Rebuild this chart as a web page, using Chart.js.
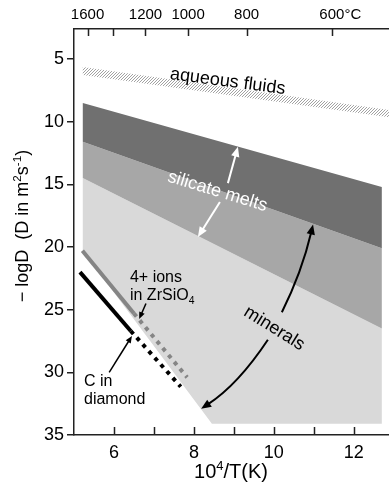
<!DOCTYPE html>
<html>
<head>
<meta charset="utf-8">
<script src="https://cdn.jsdelivr.net/npm/chart.js@4.4.1/dist/chart.umd.min.js"></script>
<style>
  html, body { margin: 0; padding: 0; background: #fff; }
  #wrap { width: 389px; height: 487px; }
</style>
</head>
<body>
<div id="wrap"><canvas id="difChart" width="389" height="487"></canvas></div>
<script>
// bordes de las bandas: [10^4/T, -logD]
const aguaArriba = [[5.22, 5.64], [12.88, 9.07]];
const aguaAbajo  = [[5.22, 6.28], [12.88, 9.65]];
const fundidoSup = [[5.22, 8.5], [12.7, 15.2]];
const fundidoMed = [[5.22, 11.6], [12.7, 20.1]];
const fundidoInf = [[5.22, 14.5], [12.7, 26.5]];
const mineralInf = [[5.22, 20.3], [8.45, 34.1], [12.7, 34.1]];

// lineas de difusion
const zirconSolida   = [[5.21, 20.3], [6.5, 25.3]];
const zirconPuntos   = [[6.5, 25.3], [7.83, 30.4]];
const diamanteSolida = [[5.15, 22.0], [6.42, 26.7]];
const diamantePuntos = [[6.42, 26.7], [7.67, 31.15]];

const ticksX = [6, 7, 8, 9, 10, 11, 12];
const ticksY = [5, 10, 15, 20, 25, 30, 35];
const gradosC = [1600, 1400, 1200, 1000, 800, 600];
const etiquetasC = ['1600', '', '1200', '1000', '800', '    600°C'];

const FUENTE = "'Liberation Sans', Arial, sans-serif";

const pts = a => a.map(p => ({ x: p[0], y: p[1] }));
function poligono(sup, inf) {
    const arriba = pts(sup), abajo = pts(inf).reverse();
    return [...arriba, ...abajo, arriba[0]];
}

// trama rayada para los fluidos
function trama() {
    const c = document.createElement('canvas');
    c.width = 3; c.height = 3;
    const g = c.getContext('2d');
    g.strokeStyle = '#7a7a7a';
    g.lineWidth = 0.7;
    g.beginPath();
    g.moveTo(0, 3); g.lineTo(3, 0);
    g.moveTo(-1, 1); g.lineTo(1, -1);
    g.moveTo(2, 4); g.lineTo(4, 2);
    g.stroke();
    return document.getElementById('difChart').getContext('2d').createPattern(c, 'repeat');
}

function zona(datos, color, orden) {
    return { data: datos, showLine: true, fill: 'shape', backgroundColor: color,
             borderWidth: 0, pointRadius: 0, order: orden };
}
function linea(datos, color, punteada, orden) {
    return { data: pts(datos), showLine: true, fill: false, borderColor: color, borderWidth: 4,
             borderDash: punteada ? [4, 5] : [], borderCapStyle: 'butt',
             pointRadius: 0, order: orden };
}

// texto con partes (superindice / subindice)
function texto(ctx, partes, x, y, ang, size, color, alinear) {
    ctx.save();
    ctx.translate(x, y);
    ctx.rotate(ang * Math.PI / 180);
    ctx.fillStyle = color;
    ctx.textBaseline = 'alphabetic';
    let total = 0;
    const medidas = partes.map(p => {
        const s = p[1] ? size * 0.65 : size;
        ctx.font = s + 'px ' + FUENTE;
        const w = ctx.measureText(p[0]).width;
        total += w;
        return { t: p[0], s, w, dy: p[1] || 0 };
    });
    let cx = alinear === 'left' ? 0 : -total / 2;
    const base = size * 0.36;
    medidas.forEach(m => {
        ctx.font = m.s + 'px ' + FUENTE;
        ctx.fillText(m.t, cx, base + m.dy * size);
        cx += m.w;
    });
    ctx.restore();
}

function punta(ctx, x0, y0, x1, y1, largo, color) {
    const a = Math.atan2(y1 - y0, x1 - x0);
    const ancho = largo * 0.42;
    ctx.fillStyle = color;
    ctx.beginPath();
    ctx.moveTo(x1, y1);
    ctx.lineTo(x1 - largo * Math.cos(a) + ancho * Math.sin(a), y1 - largo * Math.sin(a) - ancho * Math.cos(a));
    ctx.lineTo(x1 - largo * Math.cos(a) - ancho * Math.sin(a), y1 - largo * Math.sin(a) + ancho * Math.cos(a));
    ctx.closePath();
    ctx.fill();
}
function flecha(ctx, x0, y0, x1, y1, color, grosor, largo) {
    const a = Math.atan2(y1 - y0, x1 - x0);
    ctx.strokeStyle = color; ctx.lineWidth = grosor;
    ctx.beginPath();
    ctx.moveTo(x0, y0);
    ctx.lineTo(x1 - largo * 0.8 * Math.cos(a), y1 - largo * 0.8 * Math.sin(a));
    ctx.stroke();
    punta(ctx, x0, y0, x1, y1, largo, color);
}
function flechaCurva(ctx, x0, y0, cx, cy, x1, y1, color, grosor, largo) {
    const a = Math.atan2(y1 - cy, x1 - cx);
    ctx.strokeStyle = color; ctx.lineWidth = grosor;
    ctx.beginPath();
    ctx.moveTo(x0, y0);
    ctx.quadraticCurveTo(cx, cy, x1 - largo * 0.8 * Math.cos(a), y1 - largo * 0.8 * Math.sin(a));
    ctx.stroke();
    punta(ctx, cx, cy, x1, y1, largo, color);
}

const anotaciones = {
    id: 'anotaciones',
    afterDraw(chart) {
        const ctx = chart.ctx;
        const sx = chart.scales.x, sy = chart.scales.y, sx2 = chart.scales.x2;
        const px = v => sx.getPixelForValue(v), py = v => sy.getPixelForValue(v);
        const area = chart.chartArea;

        // marcas hacia dentro
        ctx.save();
        ctx.strokeStyle = '#222';
        ctx.lineWidth = 1.5;
        ctx.beginPath();
        sx.ticks.forEach(t => {
            const x = Math.round(px(t.value)) + 0.5;
            ctx.moveTo(x, area.bottom); ctx.lineTo(x, area.bottom - 8);
        });
        sx2.ticks.forEach(t => {
            const x = Math.round(sx2.getPixelForValue(t.value)) + 0.5;
            ctx.moveTo(x, area.top); ctx.lineTo(x, area.top + 7);
        });
        ctx.stroke();

        // textos de regiones
        texto(ctx, [['aqueous fluids']], px(8.85), py(6.68), 7.5, 18, '#000');
        texto(ctx, [['silicate melts']], px(8.6), py(15.45), 17, 18, '#fff');
        texto(ctx, [['minerals']], px(10.03), py(26.4), 32, 18, '#000');
        texto(ctx, [['4+ ions']], px(6.4), py(22.3), 0, 16, '#000', 'left');
        texto(ctx, [['in ZrSiO'], ['4', 0.25]], px(6.4), py(23.8), 0, 16, '#000', 'left');
        texto(ctx, [['C in']], px(5.25), py(30.6), 0, 16, '#000', 'left');
        texto(ctx, [['diamond']], px(5.25), py(32.1), 0, 16, '#000', 'left');

        // flechas
        flecha(ctx, px(8.85), py(14.9), px(9.1), py(12.0), '#fff', 2, 10);
        flecha(ctx, px(8.65), py(16.4), px(8.1), py(19.2), '#fff', 2, 10);
        flechaCurva(ctx, px(10.2), py(25.2), px(10.7), py(22.0), px(10.98), py(18.2), '#000', 2, 10);
        flechaCurva(ctx, px(9.85), py(27.4), px(9.1), py(31.0), px(8.18), py(32.9), '#000', 2, 10);
        flecha(ctx, px(6.8), py(24.5), px(6.63), py(25.75), '#000', 1.5, 7);
        flecha(ctx, px(5.88), py(30.0), px(6.45), py(27.1), '#000', 1.5, 7);

        // titulos de ejes
        texto(ctx, [['10'], ['4', -0.42], ['/T(K)']], 231, 471, 0, 20, '#000');
        texto(ctx, [['\u2212 logD  (D in m'], ['2', -0.42], ['s'], ['-1', -0.42], [')']], 22, 226, -90, 18, '#000');
        ctx.restore();
    }
};

new Chart(document.getElementById('difChart'), {
    type: 'scatter',
    data: {
        datasets: [
            linea(zirconSolida, '#858585', false, 1),
            linea(zirconPuntos, '#858585', true, 1),
            linea(diamanteSolida, '#000', false, 1),
            linea(diamantePuntos, '#000', true, 1),
            zona(poligono(fundidoSup, fundidoMed), '#707070', 2),
            zona(poligono(fundidoMed, fundidoInf), '#a7a7a7', 3),
            zona(poligono(fundidoInf, mineralInf), '#d9d9d9', 4),
            zona(poligono(aguaArriba, aguaAbajo), trama(), 5)
        ]
    },
    options: {
        responsive: false,
        animation: false,
        layout: { padding: 0 },
        plugins: { legend: { display: false }, tooltip: { enabled: false } },
        scales: {
            x: {
                type: 'linear', position: 'bottom', min: 5, max: 12.88,
                afterBuildTicks: s => { s.ticks = ticksX.map(v => ({ value: v })); },
                afterFit: s => { s.height = 52; },
                ticks: { callback: v => (v % 2 === 0 ? String(v) : ''), color: '#000',
                         font: { family: FUENTE, size: 18 }, padding: 7, maxRotation: 0, autoSkip: false },
                grid: { drawOnChartArea: false, drawTicks: false },
                border: { color: '#222', width: 1.5 }
            },
            x2: {
                type: 'linear', position: 'top', min: 5, max: 12.88,
                afterBuildTicks: s => { s.ticks = gradosC.map(c => ({ value: 10000 / (c + 273.15) })); },
                afterFit: s => { s.height = 29; },
                ticks: { callback: (v, i) => etiquetasC[i], color: '#000',
                         font: { family: FUENTE, size: 15 }, padding: 5, maxRotation: 0, autoSkip: false },
                grid: { drawOnChartArea: false, drawTicks: false },
                border: { color: '#222', width: 1.5 }
            },
            y: {
                type: 'linear', position: 'left', reverse: true, min: 2.6, max: 35,
                afterBuildTicks: s => { s.ticks = ticksY.map(v => ({ value: v })); },
                afterFit: s => { s.width = 74; },
                ticks: { color: '#000', font: { family: FUENTE, size: 18 }, padding: 3 },
                grid: { drawOnChartArea: false, drawTicks: true, tickLength: 7, color: '#222', lineWidth: 1.5 },
                border: { color: '#222', width: 1.5 }
            }
        }
    },
    plugins: [anotaciones]
});
</script>
</body>
</html>
